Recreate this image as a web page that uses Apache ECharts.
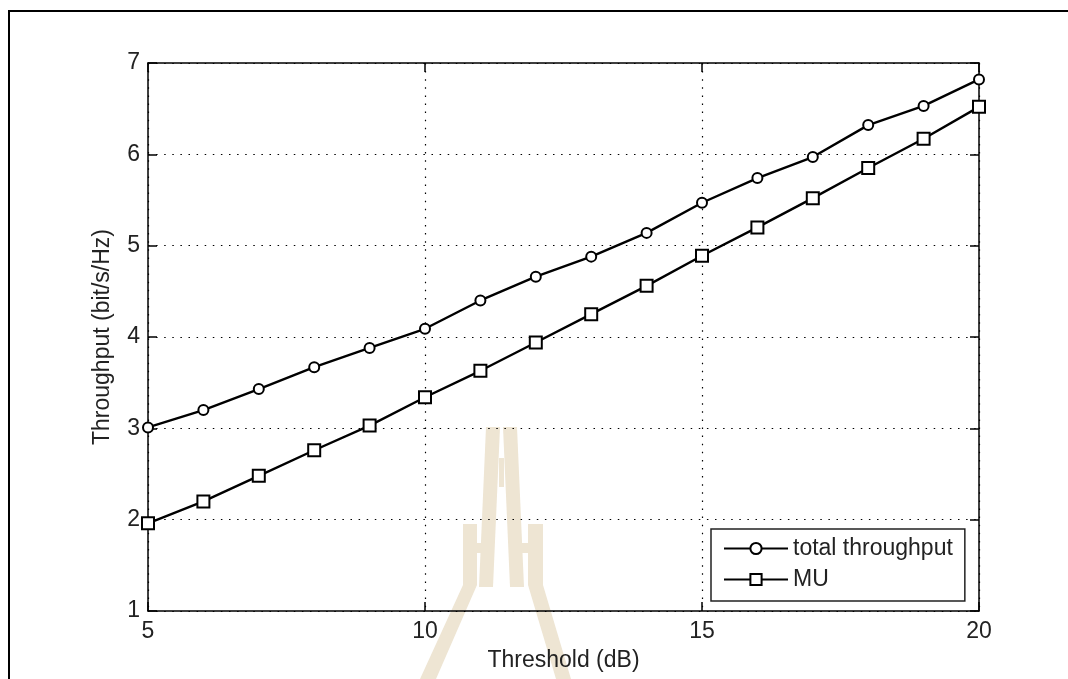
<!DOCTYPE html>
<html>
<head>
<meta charset="utf-8">
<script src="https://cdn.jsdelivr.net/npm/echarts@6/dist/echarts.min.js"></script>
<style>
html,body{margin:0;padding:0;background:#fff;}
#chart{width:1068px;height:679px;}
</style>
</head>
<body>
<div id="chart"></div>
<script>
const thresholds = [5,6,7,8,9,10,11,12,13,14,15,16,17,18,19,20];
const totalThroughput = [3.01,3.20,3.43,3.67,3.88,4.09,4.40,4.66,4.88,5.14,5.47,5.74,5.97,6.32,6.53,6.82];
const muThroughput = [1.96,2.20,2.48,2.76,3.03,3.34,3.63,3.94,4.25,4.56,4.89,5.20,5.52,5.85,6.17,6.52];
const seriesNames = ['total throughput','MU'];
const xName = 'Threshold (dB)';
const yName = 'Throughput (bit/s/Hz)';

const FONT = '"Liberation Sans", Arial, sans-serif';
const TXT = '#222';
const chart = echarts.init(document.getElementById('chart'), null, {renderer:'canvas'});

function pairs(xs, ys){ return xs.map((x,i)=>[x, ys[i]]); }

const wm = '#eee5d3';
const option = {
  backgroundColor:'#fff',
  animation:false,
  textStyle:{fontFamily:FONT},
  graphic:[
    {type:'polyline', z:-10, shape:{points:[[9,679],[9,11],[1068,11]]}, style:{stroke:'#000', lineWidth:2, fill:null}},
    {type:'polygon', z:-5, shape:{points:[[486,427],[500,427],[493,587],[479,587]]}, style:{fill:wm}},
    {type:'polygon', z:-5, shape:{points:[[503,427],[517,427],[524,587],[510,587]]}, style:{fill:wm}},
    {type:'rect', z:-5, shape:{x:499,y:458,width:5,height:29}, style:{fill:wm}},
    {type:'polygon', z:-5, shape:{points:[[463,524],[477,524],[477,585],[436,679],[420,679],[463,585]]}, style:{fill:wm}},
    {type:'polygon', z:-5, shape:{points:[[528,524],[543,524],[543,585],[571,679],[556,679],[528,585]]}, style:{fill:wm}},
    {type:'rect', z:-5, shape:{x:477,y:543,width:10,height:10}, style:{fill:wm}},
    {type:'rect', z:-5, shape:{x:516,y:543,width:12,height:10}, style:{fill:wm}}
  ],
  grid:{left:148, right:89, top:63, bottom:68, show:false},
  legend:{
    orient:'vertical',
    left:711, top:529,
    padding:[8,12,10,12],
    itemGap:8,
    itemWidth:64,
    itemHeight:14,
    borderColor:'#222',
    borderWidth:1.5,
    backgroundColor:'#fff',
    textStyle:{fontSize:23, color:TXT, fontFamily:FONT},
    data:seriesNames
  },
  xAxis:[
    {
      type:'value', min:5, max:20, interval:5,
      name:xName, nameLocation:'middle', nameGap:38,
      nameTextStyle:{fontSize:23, color:TXT, fontFamily:FONT},
      axisLine:{show:true, onZero:false, lineStyle:{color:'#000', width:1.5}},
      axisTick:{show:true, inside:true, length:9, lineStyle:{color:'#000', width:1.5}},
      axisLabel:{fontSize:23, color:TXT, margin:9, fontFamily:FONT},
      splitLine:{show:true, lineStyle:{color:'#000', width:1.2, type:[1.5,6.6]}}
    },
    {
      type:'value', min:5, max:20, interval:5, position:'top',
      axisLine:{show:true, onZero:false, lineStyle:{color:'#000', width:1.5}},
      axisTick:{show:true, inside:true, length:9, lineStyle:{color:'#000', width:1.5}},
      axisLabel:{show:false},
      splitLine:{show:false}
    }
  ],
  yAxis:[
    {
      type:'value', min:1, max:7, interval:1,
      name:yName, nameLocation:'middle', nameGap:34, nameRotate:90,
      nameTextStyle:{fontSize:23, color:TXT, fontFamily:FONT},
      axisLine:{show:true, onZero:false, lineStyle:{color:'#000', width:1.5}},
      axisTick:{show:true, inside:true, length:9, lineStyle:{color:'#000', width:1.5}},
      axisLabel:{fontSize:23, color:TXT, margin:8, fontFamily:FONT},
      splitLine:{show:true, lineStyle:{color:'#000', width:1.2, type:[1.5,6.6]}}
    },
    {
      type:'value', min:1, max:7, interval:1, position:'right',
      axisLine:{show:true, onZero:false, lineStyle:{color:'#000', width:1.5}},
      axisTick:{show:true, inside:true, length:9, lineStyle:{color:'#000', width:1.5}},
      axisLabel:{show:false},
      splitLine:{show:false}
    }
  ],
  series:[
    {
      name:seriesNames[0], type:'line', xAxisIndex:0, yAxisIndex:0,
      data:pairs(thresholds,totalThroughput),
      symbol:'emptyCircle', symbolSize:10,
      lineStyle:{color:'#000', width:2.4},
      itemStyle:{color:'#000', borderColor:'#000', borderWidth:2.4},
      z:5
    },
    {
      name:seriesNames[1], type:'line', xAxisIndex:0, yAxisIndex:0,
      data:pairs(thresholds,muThroughput),
      symbol:'emptyRect', symbolSize:12,
      lineStyle:{color:'#000', width:2.4},
      itemStyle:{color:'#000', borderColor:'#000', borderWidth:2.8},
      z:5
    }
  ]
};
chart.setOption(option);
</script>
</body>
</html>
